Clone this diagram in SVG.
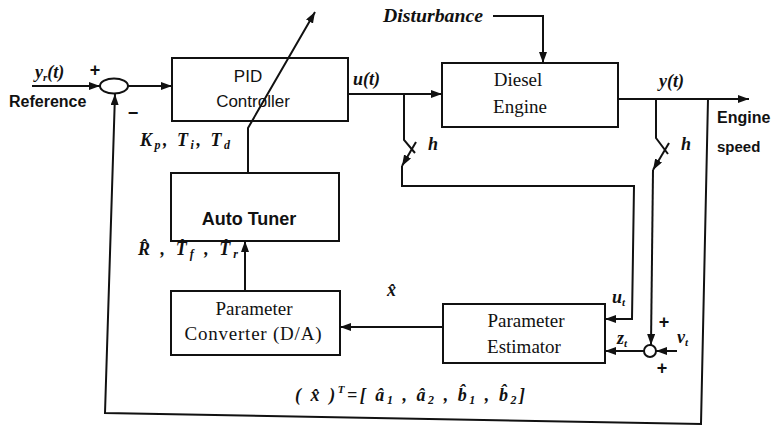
<svg xmlns="http://www.w3.org/2000/svg" width="774" height="428" viewBox="0 0 774 428">
<defs>
<marker id="arr" markerUnits="userSpaceOnUse" markerWidth="12" markerHeight="8" refX="11" refY="4" orient="auto">
<path d="M0,0 L11,4 L0,8 z" fill="#111"/>
</marker>
<style>
.box{fill:#fff;stroke:#111;stroke-width:2}
.ln{fill:none;stroke:#111;stroke-width:2}
.sans{font-family:"Liberation Sans",Arial,sans-serif;fill:#111}
.serif{font-family:"Liberation Serif","Times New Roman",serif;fill:#111}
.math{font-family:"Liberation Serif","Times New Roman",serif;font-style:italic;font-weight:bold;fill:#111;font-size:18px}
.sign{font-family:"Liberation Sans",Arial,sans-serif;font-weight:bold;fill:#111;font-size:18px}
</style>
</defs>
<rect width="774" height="428" fill="#fff"/>

<g id="sum1">
<ellipse cx="114" cy="86" rx="14" ry="7.5" class="box"/>
</g>
<g id="sum2">
<circle cx="650" cy="351" r="6" class="box"/>
</g>

<g id="pid">
<rect x="172" y="58" width="176" height="63" class="box"/>
<text class="sans" x="248" y="82" font-size="17" text-anchor="middle">PID</text>
<text class="sans" x="253" y="107" font-size="17" text-anchor="middle">Controller</text>
</g>

<g id="diesel">
<rect x="442" y="63" width="176" height="64" class="box"/>
<text class="serif" x="518" y="86" font-size="19" text-anchor="middle">Diesel</text>
<text class="serif" x="520" y="113" font-size="19" text-anchor="middle">Engine</text>
</g>

<g id="autotuner">
<rect x="171" y="173" width="168" height="68" class="box"/>
<text class="sans" x="249" y="225" font-size="18" font-weight="bold" text-anchor="middle">Auto Tuner</text>
</g>

<g id="converter">
<rect x="171" y="291" width="169" height="64" class="box"/>
<text class="serif" x="254" y="315" font-size="19" text-anchor="middle">Parameter</text>
<text class="serif" x="253" y="340" font-size="19" text-anchor="middle" textLength="137" lengthAdjust="spacing">Converter (D/A)</text>
</g>

<g id="estimator">
<rect x="443" y="304" width="162" height="59" class="box"/>
<text class="serif" x="526" y="327" font-size="19" text-anchor="middle">Parameter</text>
<text class="serif" x="524" y="353" font-size="19" text-anchor="middle">Estimator</text>
</g>

<g id="connectors">
<path class="ln" d="M32,86 H100" marker-end="url(#arr)"/>
<path class="ln" d="M128,86 H172" marker-end="url(#arr)"/>
<path class="ln" d="M348,94 H442" marker-end="url(#arr)"/>
<path class="ln" d="M493,16 H543 V63" marker-end="url(#arr)"/>
<path class="ln" d="M618,99 H749" marker-end="url(#arr)"/>
<path class="ln" d="M708,99 L701,424 L105,413 L115,94" marker-end="url(#arr)"/>
<path class="ln" d="M248,173 V128 L315,12" marker-end="url(#arr)"/>
<path class="ln" d="M245,291 V241" marker-end="url(#arr)"/>
<path class="ln" d="M443,327 H340" marker-end="url(#arr)"/>
<path class="ln" d="M404,94 V140 L415,153"/>
<path class="ln" d="M416,142 L402,166" marker-end="url(#arr)"/>
<path class="ln" d="M402,166 V186 H634 L632,319 H605" marker-end="url(#arr)"/>
<path class="ln" d="M656,99 V138 L668,154"/>
<path class="ln" d="M669,143 L653,170" marker-end="url(#arr)"/>
<path class="ln" d="M653,170 L651,345" marker-end="url(#arr)"/>
<path class="ln" d="M644,351 H605" marker-end="url(#arr)"/>
<path class="ln" d="M677,351 H656" marker-end="url(#arr)"/>
</g>

<g id="labels">
<text class="math" x="35" y="78">y<tspan dy="3" font-size="11">r</tspan><tspan dy="-3">(t)</tspan></text>
<text class="sign" x="95" y="76" text-anchor="middle">+</text>
<text class="sign" x="133" y="119" text-anchor="middle">−</text>
<text class="sans" x="9" y="107" font-size="16" font-weight="bold">Reference</text>
<text class="math" x="140" y="146" font-size="20" textLength="90" lengthAdjust="spacing">K<tspan dy="3" font-size="12">p</tspan><tspan dy="-3">, T</tspan><tspan dy="3" font-size="12">i</tspan><tspan dy="-3">, T</tspan><tspan dy="3" font-size="12">d</tspan></text>
<text class="math" x="138" y="255" font-size="20" textLength="100" lengthAdjust="spacing">R̂ , T̂<tspan dy="3" font-size="12">f</tspan><tspan dy="-3"> , T̂</tspan><tspan dy="3" font-size="12">r</tspan></text>
<text class="math" x="353" y="85">u(t)</text>
<text class="math" x="383" y="22" font-size="18" textLength="100" lengthAdjust="spacingAndGlyphs">Disturbance</text>
<text class="math" x="659" y="87">y(t)</text>
<text class="sans" x="717" y="123" font-size="16" font-weight="bold">Engine</text>
<text class="sans" x="717" y="152" font-size="15" font-weight="bold">speed</text>
<text class="math" x="428" y="150">h</text>
<text class="math" x="681" y="150">h</text>
<text class="math" x="387" y="296" font-size="19">x̂</text>
<text class="math" x="612" y="303">u<tspan dy="3" font-size="11">t</tspan></text>
<text class="math" x="617" y="344">z<tspan dy="3" font-size="11">t</tspan></text>
<text class="math" x="677" y="343">v<tspan dy="3" font-size="11">t</tspan></text>
<text class="sign" x="664" y="328" text-anchor="middle">+</text>
<text class="sign" x="662" y="374" text-anchor="middle">+</text>
<text class="math" x="295" y="401" font-size="20" textLength="230" lengthAdjust="spacing">( x̂ )<tspan dy="-8" font-size="11">T</tspan><tspan dy="8">=[ â</tspan><tspan dy="3" font-size="12">1</tspan><tspan dy="-3"> , â</tspan><tspan dy="3" font-size="12">2</tspan><tspan dy="-3"> , b̂</tspan><tspan dy="3" font-size="12">1</tspan><tspan dy="-3"> , b̂</tspan><tspan dy="3" font-size="12">2</tspan><tspan dy="-3">]</tspan></text>
</g>
</svg>
